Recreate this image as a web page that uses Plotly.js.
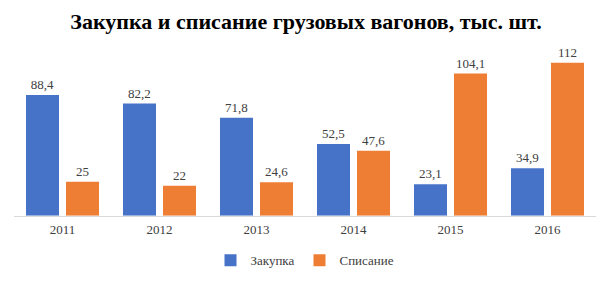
<!DOCTYPE html>
<html><head><meta charset="utf-8">
<script src="https://cdn.plot.ly/plotly-3.0.1.min.js"></script>
<style>html,body{margin:0;padding:0;background:#fff}#c{width:612px;height:285px}</style>
</head><body><div id="c"></div>
<script>
var years = ['2011','2012','2013','2014','2015','2016'];
var zakupka = [88.4, 82.2, 71.8, 52.5, 23.1, 34.9];
var spisanie = [25, 22, 24.6, 47.6, 104.1, 112];
var zakupkaLabels = ['88,4','82,2','71,8','52,5','23,1','34,9'];
var spisanieLabels = ['25','22','24,6','47,6','104,1','112'];

var fontFam = '"Liberation Serif", "Times New Roman", serif';
var data = [
  {type:'bar', name:'Закупка', x:years, y:zakupka, text:zakupkaLabels,
   textposition:'outside', cliponaxis:false,
   textfont:{family:fontFam, size:13, color:'#404040'},
   marker:{color:'#4673C8'}, hoverinfo:'none'},
  {type:'bar', name:'Списание', x:years, y:spisanie, text:spisanieLabels,
   textposition:'outside', cliponaxis:false,
   textfont:{family:fontFam, size:13, color:'#404040'},
   marker:{color:'#EE7E33'}, hoverinfo:'none'}
];
var layout = {
  width:612, height:285,
  margin:{l:14, r:16, t:40, b:10},
  paper_bgcolor:'#fff', plot_bgcolor:'#fff',
  title:{text:'<b>Закупка и списание грузовых вагонов, тыс. шт.</b>', x:0.5, xanchor:'center', y:0.925, yanchor:'middle',
         font:{family:fontFam, size:22, color:'#000'}},
  barmode:'group', bargap:0.175, bargroupgap:0.175,
  xaxis:{showline:true, linecolor:'#d9d9d9', linewidth:1, ticks:'', showgrid:false, zeroline:false,
         automargin:false, anchor:'y', ticklabelstandoff:2,
         tickfont:{family:fontFam, size:13, color:'#404040'}, fixedrange:true},
  yaxis:{visible:false, domain:[53/235, 1], range:[0,128.7], showgrid:false, zeroline:false, fixedrange:true},
  showlegend:true,
  legend:{orientation:'h', x:0.5, xanchor:'center', y:0.03, yanchor:'middle',
          font:{family:fontFam, size:13, color:'#404040'}, itemwidth:30, traceorder:'normal'}
};
Plotly.newPlot('c', data, layout, {displayModeBar:false, staticPlot:true});
</script></body></html>
